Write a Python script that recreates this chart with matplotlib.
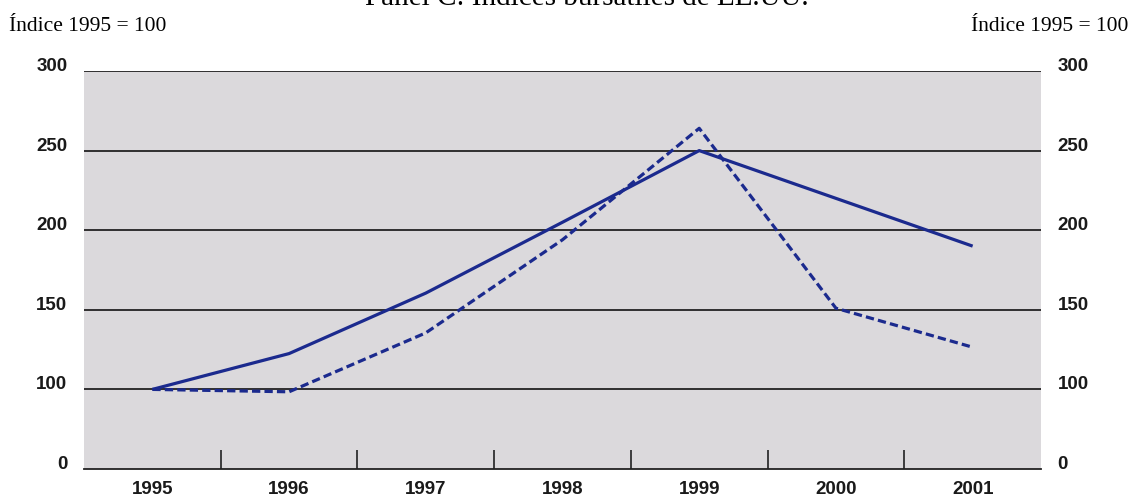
import matplotlib.pyplot as plt
import matplotlib.transforms as mtransforms

# Panel C data, index 1995 = 100
years = ['1995', '1996', '1997', '1998', '1999', '2000', '2001']
solid_idx = [100, 122.5, 160.5, 205, 250, 220, 190]
dashed_idx = [100, 98.5, 135.5, 194, 264, 151, 126.5]
ytick_vals = [50, 100, 150, 200, 250, 300]
ytick_labels = ['0', '100', '150', '200', '250', '300']

line_color = '#1b2a8e'
bg_color = '#dbd9dc'

fig = plt.figure(figsize=(11.35, 5.0), dpi=100)
ax = fig.add_axes([84 / 1135, 31 / 500, 957 / 1135, 398 / 500])
ax.set_facecolor(bg_color)

x = list(range(len(years)))
ax.plot(x, solid_idx, color=line_color, lw=2.3, solid_capstyle='butt', zorder=3)
ax.plot(x, dashed_idx, color=line_color, lw=2.3, dashes=(2.6, 1.3), zorder=3)

ax.set_xlim(-0.5, len(years) - 0.5)
ax.set_ylim(50, 300)

# horizontal rules (axis is broken: "0" sits where 50 would be)
for v in ytick_vals[1:]:
    ax.axhline(v, color='#222222', lw=1.3, zorder=1)

for s in ['top', 'left', 'right']:
    ax.spines[s].set_visible(False)
ax.spines['bottom'].set_color('#222222')
ax.spines['bottom'].set_linewidth(1.3)

# category ticks between years, pointing up into the plot
ax.set_xticks([i + 0.5 for i in range(len(years) - 1)], minor=True)
ax.tick_params(axis='x', which='minor', direction='in', length=14, width=1.2, color='#222222')
ax.set_xticks(x)
ax.set_xticklabels(years)
ax.tick_params(axis='x', which='major', length=0, pad=9)

ax.set_yticks(ytick_vals)
ax.set_yticklabels(ytick_labels)
ax.tick_params(axis='y', length=0, pad=12, labelright=True, labelleft=True)

for lab in ax.get_xticklabels() + ax.get_yticklabels():
    lab.set_fontfamily('Liberation Sans')
    lab.set_fontsize(13.5)
    lab.set_fontweight('bold')
    lab.set_color('#1a1a1a')

# y labels sit on their rules
for lab in ax.get_yticklabels(which='both'):
    lab.set_va('baseline')
for t in ax.yaxis.get_major_ticks():
    t.label1.set_va('baseline')
    t.label2.set_va('baseline')

fig.text(587 / 1135, 1 - 5 / 500, 'Panel C: Índices bursátiles de EE.UU.', ha='center', va='baseline',
         fontfamily='Liberation Serif', fontsize=21)
fig.text(9 / 1135, 1 - 31 / 500, 'Índice 1995 = 100', ha='left', va='baseline',
         fontfamily='Liberation Serif', fontsize=15.5)
fig.text(1128 / 1135, 1 - 31 / 500, 'Índice 1995 = 100', ha='right', va='baseline',
         fontfamily='Liberation Serif', fontsize=15.5)

fig.savefig('out.png', dpi=100)
